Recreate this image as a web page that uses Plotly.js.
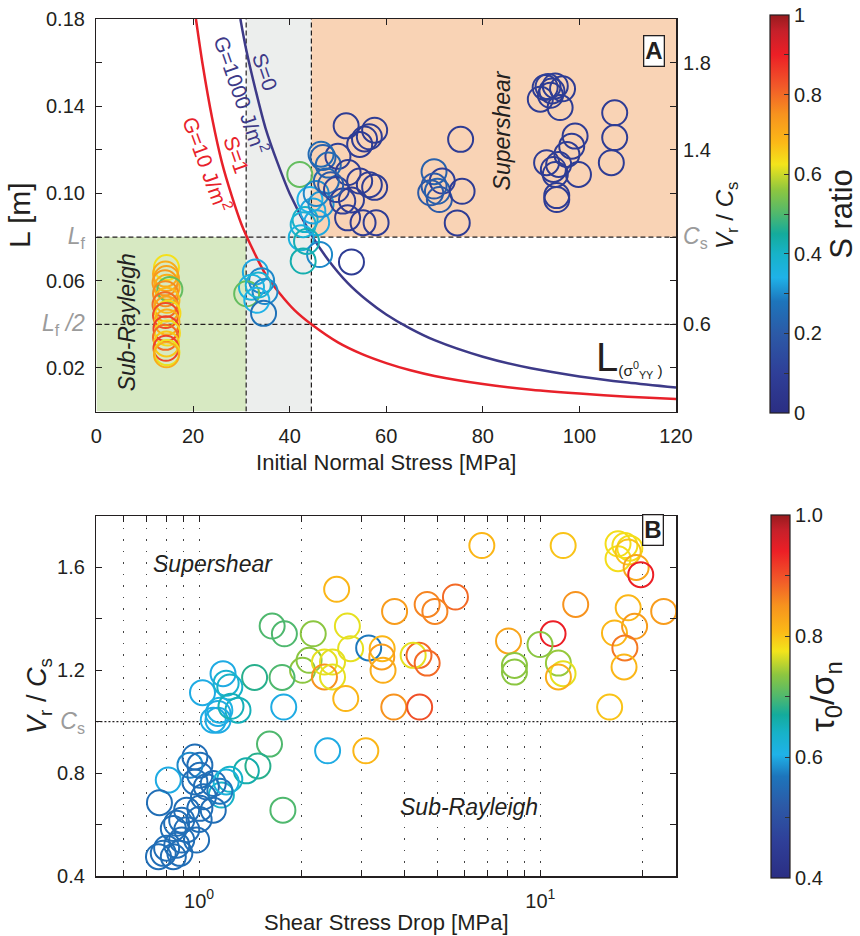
<!DOCTYPE html>
<html><head><meta charset="utf-8">
<script src="https://cdn.plot.ly/plotly-3.0.1.min.js"></script>
<style>body{margin:0;padding:0;background:#fff}#chart{width:860px;height:936px}</style>
</head><body><div id="chart"></div>
<script>
// ---------- Panel A : nucleation length vs initial normal stress ----------
const normalStress = [
  14.5,14.3,14.5,14.2,14.6,15.2,14.3,14.6,14.2,14.5,14.8,14.3,14.6,14.4,14.7,14.3,14.5,14.4,14.6,14.5,
  32.9,34.2,32.1,31.1,34.9,33.2,34.6,33.5,
  42.1,44.2,43.2,42.8,45.6,42.4,46.2,42.8,44.8,46.5,43.5,45.5,
  51.7,57.6,56.5,55.5,54.5,46.9,50.0,48.0,52.1,47.6,54.5,56.5,57.6,49.7,52.8,51.0,52.0,55.2,57.9,52.8,48.5,46.5,
  69.9,71.6,69.9,70.6,69.2,71.0,75.7,75.4,74.7,
  92.9,95.0,94.3,91.9,96.0,93.5,94.0,96.5,
  99.1,98.4,97.4,93.2,95.7,94.6,99.8,95.0,95.3,95.3,
  107.3,107.3,106.6
];
const nucleationL = [
  0.066,0.063,0.061,0.059,0.057,0.056,0.054,0.051,0.049,0.047,0.045,0.044,0.041,0.038,0.036,0.034,0.031,0.029,0.027,0.026,
  0.064,0.060,0.057,0.054,0.055,0.051,0.045,0.058,
  0.1087,0.0972,0.088,0.0857,0.0866,0.0797,0.072,0.069,0.092,0.095,0.078,0.100,
  0.131,0.129,0.126,0.125,0.1225,0.1165,0.117,0.113,0.1096,0.1057,0.1057,0.104,0.1028,0.1018,0.097,0.0965,0.0888,0.0866,0.0866,0.0686,0.104,0.118,
  0.110,0.1057,0.1034,0.101,0.1003,0.0972,0.101,0.1248,0.0865,
  0.1486,0.1493,0.147,0.1432,0.1394,0.149,0.145,0.148,
  0.1263,0.1217,0.1179,0.1141,0.1133,0.111,0.1087,0.1087,0.0972,0.099,
  0.137,0.1256,0.1141
];
const sRatio = [
  0.63,0.70,0.72,0.74,0.70,0.52,0.76,0.68,0.80,0.72,0.64,0.84,0.70,0.86,0.64,0.80,0.66,0.85,0.62,0.70,
  0.33,0.30,0.36,0.52,0.30,0.34,0.27,0.38,
  0.52,0.34,0.40,0.38,0.33,0.36,0.30,0.43,0.33,0.31,0.42,0.30,
  0.08,0.08,0.08,0.08,0.08,0.22,0.10,0.24,0.08,0.24,0.08,0.08,0.08,0.12,0.08,0.10,0.08,0.08,0.08,0.08,0.20,0.25,
  0.22,0.10,0.20,0.22,0.20,0.20,0.08,0.08,0.08,
  0.08,0.08,0.08,0.08,0.08,0.10,0.08,0.08,
  0.08,0.08,0.08,0.08,0.08,0.08,0.08,0.08,0.08,0.08,
  0.08,0.08,0.08
];
// theoretical curves L(sigma_yy^0)
const curveG10Stress = [20.6,22,24,26,28,30,32,35,38,41,44.5,50,55,60,65,70,80,90,100,110,120];
const curveG10L      = [0.180,0.159,0.134,0.114,0.099,0.086,0.076,0.063,0.054,0.0465,0.040,0.0317,0.0263,0.0222,0.0189,0.0163,0.0126,0.0100,0.0082,0.0068,0.0057];
const curveG1000Stress = [29.8,31,33,35,37.5,40,44.5,48,52,56,60,65,70,80,90,100,110,120];
const curveG1000L      = [0.180,0.166,0.147,0.130,0.114,0.100,0.081,0.0695,0.059,0.051,0.0445,0.038,0.0327,0.0251,0.0198,0.0161,0.0133,0.0110];
// regime thresholds
const Lf = 0.08;
const sigmaSubRayleigh = 31;
const sigmaSupershear = 44.5;

// ---------- Panel B : rupture speed vs shear stress drop ----------
const stressDrop = [
  2.53,1.637,1.778,2.16,2.72,2.78,2.10,2.01,2.33,2.46,2.33,2.46,2.69,1.454,1.75,1.77,1.175,1.23,1.023,1.30,1.15,1.10,1.136,1.136,1.20,1.24,
  6.74,11.67,16.9,17.7,18.3,16.9,18.1,19.1,19.7,5.64,4.66,4.91,3.74,12.7,18.1,23.0,18.9,16.5,17.7,17.6,15.97,10.9,8.07,9.98,8.4,8.4,11.3,11.66,11.3,
  3.14,3.44,3.43,3.46,4.41,4.24,4.66,3.72,4.43,
  2.38,3.08,1.608,1.487,1.375,1.23,1.162,1.76,0.812,0.765,0.972,0.94,1.005,1.005,0.972,1.05,1.10,1.20,1.03,1.10,1.005,0.919,0.889,0.859,0.84,0.983,0.889,0.803,0.785,0.878,0.84,0.76,1.15,1.0,0.92,0.86
];
const vrRatio = [
  1.515,1.372,1.342,1.342,1.372,1.284,1.239,1.20,1.232,1.232,1.174,1.174,1.09,1.172,1.172,1.057,1.187,1.135,1.113,1.045,1.045,1.006,1.032,1.006,1.15,1.06,
  1.685,1.685,1.692,1.685,1.675,1.634,1.66,1.60,1.572,1.485,1.456,1.429,1.429,1.456,1.443,1.429,1.371,1.345,1.287,1.213,1.057,1.342,1.314,1.30,1.219,1.193,1.228,1.187,1.174,
  1.287,1.284,1.252,1.20,1.258,1.258,1.228,1.057,1.057,
  0.887,0.887,0.913,0.828,0.809,0.776,0.715,0.656,0.773,0.685,0.863,0.831,0.831,0.792,0.766,0.747,0.76,0.766,0.708,0.656,0.663,0.656,0.617,0.605,0.585,0.54,0.54,0.508,0.488,0.488,0.475,0.475,0.73,0.62,0.58,0.52
];
const tauRatio = [
  0.81,0.70,0.70,0.735,0.77,0.77,0.735,0.735,0.77,0.77,0.85,0.77,0.81,0.68,0.70,0.60,0.60,0.64,0.60,0.65,0.61,0.60,0.60,0.60,0.63,0.65,
  0.81,0.80,0.78,0.78,0.78,0.78,0.80,0.83,0.94,0.88,0.86,0.86,0.84,0.85,0.81,0.84,0.84,0.81,0.87,0.81,0.80,0.94,0.83,0.735,0.735,0.735,0.74,0.77,0.82,
  0.57,0.81,0.84,0.82,0.88,0.77,0.88,0.85,0.90,
  0.60,0.81,0.70,0.68,0.66,0.64,0.64,0.70,0.60,0.555,0.555,0.58,0.555,0.555,0.555,0.555,0.555,0.62,0.555,0.555,0.555,0.555,0.555,0.555,0.555,0.555,0.555,0.555,0.555,0.555,0.555,0.555,0.57,0.555,0.555,0.555
];

// ---------- layout helpers ----------
const W = 860, H = 936;
const FONT = 'Liberation Sans, Arial, Helvetica, sans-serif';
const INK = '#231f20';
const GREY = '#9b9b9b';
const px = x => x / W, py = y => 1 - y / H;

const jet = [[0,'#2b2e83'],[0.1,'#2f3f98'],[0.2,'#2c5aa7'],[0.28,'#1d75bb'],[0.34,'#1fb2e8'],[0.4,'#17b2c8'],
  [0.45,'#14ab9c'],[0.5,'#4fb86e'],[0.56,'#8dc640'],[0.625,'#f3e41b'],[0.68,'#fbb817'],[0.75,'#f7931e'],
  [0.82,'#f15a29'],[0.9,'#ec1f26'],[0.96,'#c5202a'],[1,'#981b1e']];

const range = (a, b, s) => { const r = []; for (let v = a; v <= b + 1e-9; v += s) r.push(+v.toFixed(4)); return r; };

const xMinA = 0, xMaxA = 120, yMaxA = 0.18;
const dropMin = 0.5, dropMax = 25;

const traces = [
  { type:'scatter', mode:'lines', x:curveG10Stress, y:curveG10L, xaxis:'x', yaxis:'y',
    line:{color:'#e8212a', width:2.5, shape:'spline', smoothing:0.8}, hoverinfo:'skip', showlegend:false },
  { type:'scatter', mode:'lines', x:curveG1000Stress, y:curveG1000L, xaxis:'x', yaxis:'y',
    line:{color:'#3d3a88', width:2.5, shape:'spline', smoothing:0.8}, hoverinfo:'skip', showlegend:false },
  { type:'scatter', mode:'markers', x:normalStress, y:nucleationL, xaxis:'x', yaxis:'y',
    marker:{symbol:'circle-open', size:25, color:sRatio, coloraxis:'coloraxis', line:{width:2}}, showlegend:false },
  { type:'scatter', mode:'markers', x:[], y:[], xaxis:'x', yaxis:'y3', showlegend:false, hoverinfo:'skip' },
  { type:'scatter', mode:'markers', x:stressDrop, y:vrRatio, xaxis:'x2', yaxis:'y2',
    marker:{symbol:'circle-open', size:25, color:tauRatio, coloraxis:'coloraxis2', line:{width:2}}, showlegend:false }
];

const tickFont = {family:FONT, size:20, color:INK};
const axisBase = { showline:true, linecolor:INK, linewidth:1.5, mirror:'ticks', ticks:'inside', ticklen:6,
  tickcolor:INK, tickwidth:1, showgrid:false, zeroline:false, tickfont:tickFont, ticklabelstandoff:6 };

const LfLabel = '<span style="color:'+GREY+';font-size:23px"><i>L</i><sub>f</sub></span>';
const LfHalfLabel = '<span style="color:'+GREY+';font-size:23px"><i>L</i><sub>f</sub><i> /2</i></span>';
const CsLabel = '<span style="color:'+GREY+';font-size:23px"><i>C</i><sub>s</sub></span>';

const Ltick = range(0, 0.18, 0.02);
const LtickText = Ltick.map(v => {
  if (Math.abs(v - Lf) < 1e-6) return LfLabel;
  if (Math.abs(v - Lf/2) < 1e-6) return LfHalfLabel;
  return ([0.02,0.06,0.10,0.14,0.18].some(t => Math.abs(t - v) < 1e-6)) ? v.toFixed(2) : '';
});
const VrTickA = range(0.2, 2.0, 0.2);
const VrTickTextA = VrTickA.map(v => Math.abs(v-1) < 1e-6 ? CsLabel : ([0.6,1.4,1.8].some(t => Math.abs(t-v) < 1e-6) ? v.toFixed(1) : ''));
const VrTickB = range(0.4, 1.8, 0.2);
const VrTickTextB = VrTickB.map(v => Math.abs(v-1) < 1e-6 ? CsLabel : ([0.4,0.8,1.2,1.6].some(t => Math.abs(t-v) < 1e-6) ? v.toFixed(1) : ''));
const dropTicks = [0.6,0.7,0.8,0.9,1,2,3,4,5,6,7,8,9,10,20];
const dropTickText = dropTicks.map(v => v === 1 ? '10<sup>0</sup>' : (v === 10 ? '10<sup>1</sup>' : ''));

const dashA = '5px,3px';
const dashLine = {color:INK, width:1.2, dash:dashA};
const shapes = [
  {type:'rect', xref:'x', yref:'y', x0:xMinA, x1:sigmaSubRayleigh, y0:0, y1:Lf, fillcolor:'#d7e9c2', line:{width:0}, layer:'below'},
  {type:'rect', xref:'x', yref:'y', x0:sigmaSubRayleigh, x1:sigmaSupershear, y0:0, y1:yMaxA, fillcolor:'#eceeed', line:{width:0}, layer:'below'},
  {type:'rect', xref:'x', yref:'y', x0:sigmaSupershear, x1:xMaxA, y0:Lf, y1:yMaxA, fillcolor:'#f9d3b5', line:{width:0}, layer:'below'},
  {type:'line', xref:'x', yref:'y', x0:xMinA, x1:xMaxA, y0:Lf, y1:Lf, line:dashLine, layer:'below'},
  {type:'line', xref:'x', yref:'y', x0:xMinA, x1:xMaxA, y0:Lf/2, y1:Lf/2, line:dashLine, layer:'below'},
  {type:'line', xref:'x', yref:'y', x0:sigmaSubRayleigh, x1:sigmaSubRayleigh, y0:0, y1:yMaxA, line:dashLine, layer:'below'},
  {type:'line', xref:'x', yref:'y', x0:sigmaSupershear, x1:sigmaSupershear, y0:0, y1:yMaxA, line:dashLine, layer:'below'},
  {type:'line', xref:'x2', yref:'y2', x0:dropMin, x1:dropMax, y0:1, y1:1, line:{color:INK, width:1.2, dash:'2px,2px'}, layer:'below'}
];

const it = (t) => '<i>' + t + '</i>';
const annotations = [
  {xref:'x', yref:'y', x:35.0, y:0.1556, text:'S=0', textangle:71, showarrow:false, font:{family:FONT, size:21, color:'#3d3a88'}},
  {xref:'x', yref:'y', x:30.1, y:0.1452, text:'G=1000 J/m<sup>2</sup>', textangle:71, showarrow:false, font:{family:FONT, size:21, color:'#3d3a88'}},
  {xref:'x', yref:'y', x:29.0, y:0.118, text:'S=1', textangle:71, showarrow:false, font:{family:FONT, size:21, color:'#e8212a'}},
  {xref:'x', yref:'y', x:22.9, y:0.1133, text:'G=10 J/m<sup>2</sup>', textangle:70, showarrow:false, font:{family:FONT, size:21, color:'#e8212a'}},
  {xref:'x', yref:'y', x:84, y:0.129, text:it('Supershear'), textangle:-90, showarrow:false, font:{family:FONT, size:23, color:INK}},
  {xref:'x', yref:'y', x:6.2, y:0.0411, text:it('Sub-Rayleigh'), textangle:-90, showarrow:false, font:{family:FONT, size:23, color:INK}},
  {xref:'x', yref:'y', x:110.3, y:0.0246, text:'L<span style="font-size:22px"><sub>(σ<sup>0</sup><sub>YY</sub> )</sub></span>', showarrow:false, font:{family:FONT, size:40, color:INK}},
  {xref:'paper', yref:'paper', x:px(669), y:py(35), text:'<b>A</b>', showarrow:false, bgcolor:'#fff', bordercolor:INK, borderwidth:1.3, borderpad:1, font:{family:FONT, size:24, color:INK}},
  {xref:'x2', yref:'y2', x:Math.log10(1.096), y:1.612, text:it('Supershear'), showarrow:false, font:{family:FONT, size:23, color:INK}},
  {xref:'x2', yref:'y2', x:Math.log10(6.17), y:0.668, text:it('Sub-Rayleigh'), showarrow:false, font:{family:FONT, size:23, color:INK}},
  {xref:'paper', yref:'paper', x:px(668), y:py(530), text:'<b>B</b>', showarrow:false, bgcolor:'#fff', bordercolor:INK, borderwidth:1.3, borderpad:1, font:{family:FONT, size:24, color:INK}}
];

const layout = {
  width:W, height:H, margin:{l:0, r:0, t:0, b:0},
  paper_bgcolor:'#fff', plot_bgcolor:'#fff', font:{family:FONT, color:INK},
  xaxis: Object.assign({}, axisBase, {domain:[px(97), px(680)], anchor:'y', range:[xMinA, xMaxA], tickvals:range(0,120,20),
    title:{text:'Initial Normal Stress [MPa]', font:{family:FONT, size:22, color:INK}, standoff:8}}),
  yaxis: Object.assign({}, axisBase, {domain:[py(411.5), py(19)], anchor:'x', range:[0, yMaxA], tickvals:Ltick, ticktext:LtickText,
    title:{text:'L [m]', font:{family:FONT, size:30, color:INK}, standoff:2}}),
  yaxis3: {overlaying:'y', side:'right', anchor:'x', range:[0.2,2.0], tickvals:VrTickA, ticktext:VrTickTextA,
    showline:false, ticks:'', showgrid:false, zeroline:false, tickfont:tickFont, ticklabelstandoff:6,
    title:{text:'<i>V</i><sub>r</sub> / <i>C</i><sub>s</sub>', font:{family:FONT, size:24, color:INK}, standoff:6}},
  xaxis2: Object.assign({}, axisBase, {domain:[px(97), px(680)], anchor:'y2', type:'log', range:[Math.log10(dropMin), Math.log10(dropMax)],
    tickvals:dropTicks, ticktext:dropTickText, showgrid:true, gridcolor:'#444', gridwidth:1, griddash:'1.5px,10px',
    title:{text:'Shear Stress Drop [MPa]', font:{family:FONT, size:22, color:INK}, standoff:4}}),
  yaxis2: Object.assign({}, axisBase, {domain:[py(876), py(516)], anchor:'x2', range:[0.4,1.8], tickvals:VrTickB, ticktext:VrTickTextB,
    title:{text:'<i>V</i><sub>r</sub> / <i>C</i><sub>s</sub>', font:{family:FONT, size:27, color:INK}, standoff:2}}),
  coloraxis: {cmin:0, cmax:1, colorscale:jet, colorbar:{
    x:px(775), xanchor:'left', y:py(15), yanchor:'top', len:398/H, lenmode:'fraction', thickness:19, xpad:0, ypad:0,
    outlinewidth:1.2, outlinecolor:INK, ticks:'inside', ticklen:5, tickcolor:'#333',
    tickvals:range(0,1,0.1), ticktext:range(0,1,0.1).map(v => [0,0.2,0.4,0.6,0.8].some(t=>Math.abs(t-v)<1e-6) ? String(v) : (Math.abs(v-1)<1e-6 ? '1' : '')),
    tickfont:tickFont, title:{text:'S ratio', side:'right', font:{family:FONT, size:31, color:INK}}}},
  coloraxis2: {cmin:0.4, cmax:1.0, colorscale:jet, colorbar:{
    x:px(776), xanchor:'left', y:py(515), yanchor:'top', len:363/H, lenmode:'fraction', thickness:19, xpad:0, ypad:0,
    outlinewidth:1.2, outlinecolor:INK, ticks:'inside', ticklen:5, tickcolor:'#333',
    tickvals:range(0.4,1.0,0.1), ticktext:range(0.4,1.0,0.1).map(v => [0.4,0.6,0.8,1.0].some(t=>Math.abs(t-v)<1e-6) ? v.toFixed(1) : ''),
    tickfont:tickFont, title:{text:'τ<sub>0</sub>/σ<sub>n</sub>', side:'right', font:{family:FONT, size:34, color:INK}}}},
  shapes: shapes, annotations: annotations
};

Plotly.newPlot('chart', traces, layout, {displayModeBar:false, staticPlot:true});
</script>
</body></html>
